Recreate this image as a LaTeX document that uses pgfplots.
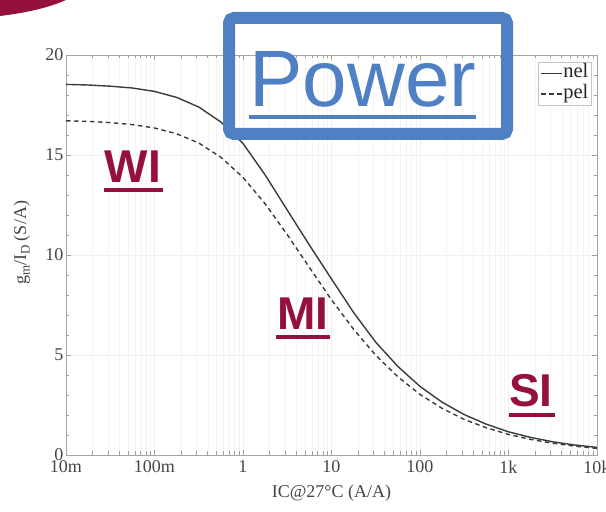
\documentclass[border=0pt]{standalone}
\usepackage{fontspec}
\setmainfont{Liberation Serif}
\newfontfamily\arial{Liberation Sans}
\usepackage{pgfplots}
\pgfplotsset{compat=1.18}
\definecolor{wired}{HTML}{96103F}
\definecolor{pblue}{HTML}{4F80C4}
\definecolor{curve}{HTML}{3A3A3A}
\definecolor{ticktext}{HTML}{454545}

% gm/ID vs inversion coefficient
\pgfplotstableread{
ic      gmid
0.01    18.53
0.0178  18.50
0.0316  18.44
0.0562  18.35
0.1     18.18
0.178   17.88
0.316   17.40
0.562   16.65
1       15.58
1.78    14.00
3.16    12.25
5.62    10.50
10      8.80
17.8    7.12
31.6    5.64
56.2    4.43
100     3.43
178     2.64
316     2.02
562     1.54
1000    1.16
1778    0.88
3162    0.66
5623    0.50
10000   0.38
}\nel
\pgfplotstableread{
ic      gmid
0.01    16.71
0.0178  16.68
0.0316  16.62
0.0562  16.52
0.1     16.35
0.178   16.06
0.316   15.60
0.562   14.89
1       13.88
1.78    12.56
3.16    11.02
5.62    9.38
10      7.76
17.8    6.28
31.6    4.99
56.2    3.91
100     3.03
178     2.33
316     1.78
562     1.36
1000    1.03
1778    0.78
3162    0.59
5623    0.44
10000   0.33
}\pel

\begin{document}
\begin{tikzpicture}
\begin{axis}[
    scale only axis,
    width=531pt, height=400pt,
    xmode=log,
    xmin=0.01, xmax=10000,
    ymin=0, ymax=20,
    xtick={0.01,0.1,1,10,100,1000,10000},
    xticklabels={10m,100m,1,10,100,1k,10k},
    ytick={0,5,10,15,20},
    minor y tick num=4,
    xtick pos=both, ytick pos=both,
    tick align=inside,
    major tick length=5pt, minor tick length=3.5pt,
    tick style={gray!75, line width=0.6pt},
    axis line style={gray!70, line width=0.8pt},
    xmajorgrids, xminorgrids, ymajorgrids,
    major grid style={gray!12, line width=0.6pt},
    minor grid style={gray!9, line width=0.5pt},
    /pgf/number format/assume math mode=true,
    ticklabel style={font=\fontsize{18}{20}\selectfont, text=ticktext},
    xticklabel style={yshift=-2pt},
    yticklabel style={xshift=1pt},
    xlabel={IC@27°C (A/A)},
    ylabel={g\raisebox{-0.4ex}{\fontsize{13}{14}\selectfont m}/I\raisebox{-0.4ex}{\fontsize{13}{14}\selectfont D} (S/A)},
    label style={font=\fontsize{18}{20}\selectfont, text=ticktext},
    xlabel style={at={(axis description cs:0.5,0)}, anchor=center, yshift=-38pt},
    ylabel style={at={(axis description cs:-0.083,0.53)}, anchor=center},
    legend style={at={(1,1)}, anchor=north east, xshift=-6pt, yshift=-7pt,
        draw=gray!45, fill=white, inner sep=2pt, row sep=2pt,
        nodes={font=\fontsize{20.5}{21}\selectfont, text=black!85,
               inner sep=0.5pt, text height=13pt, text depth=4.5pt}},
    legend cell align=left,
    legend image code/.code={\draw[#1] (0pt,0pt) -- (21pt,0pt);},
]
\addplot[curve, line width=1.4pt] table[x=ic, y=gmid] {\nel};
\addlegendentry{nel}
\addplot[curve, line width=1.4pt, dash pattern=on 4.5pt off 3.5pt] table[x=ic, y=gmid] {\pel};
\addlegendentry{pel}
\end{axis}

% slide overlay, in pixel coordinates of the 606x512 image
\begin{scope}[x=1pt, y=-1pt, shift={(-66pt,455pt)}]
  \fill[wired] (0,0) -- (66,0) .. controls (48,8) and (25,13) .. (0,16) -- cycle;
  \draw[pblue, line width=12pt, rounded corners=5pt] (229,18) rectangle (507,134);
  \node[pblue, font=\arial\fontsize{80}{80}\selectfont, anchor=base, inner sep=0pt] at (363,107) {Power};
  \fill[pblue] (249,115) rectangle (476,119.5);
  \node[wired, font=\arial\bfseries\fontsize{46}{46}\selectfont, anchor=base, inner sep=0pt] at (133,183) {WI};
  \fill[wired] (104,188) rectangle (163,192.5);
  \node[wired, font=\arial\bfseries\fontsize{46}{46}\selectfont, anchor=base, inner sep=0pt] at (303,330) {MI};
  \fill[wired] (276,335) rectangle (330,339.5);
  \node[wired, font=\arial\bfseries\fontsize{46}{46}\selectfont, anchor=base, inner sep=0pt] at (531,407) {SI};
  \fill[wired] (509,413) rectangle (555,417.5);
  \pgfresetboundingbox
  \path[use as bounding box] (0,0) rectangle (606,512);
\end{scope}
\end{tikzpicture}
\end{document}
